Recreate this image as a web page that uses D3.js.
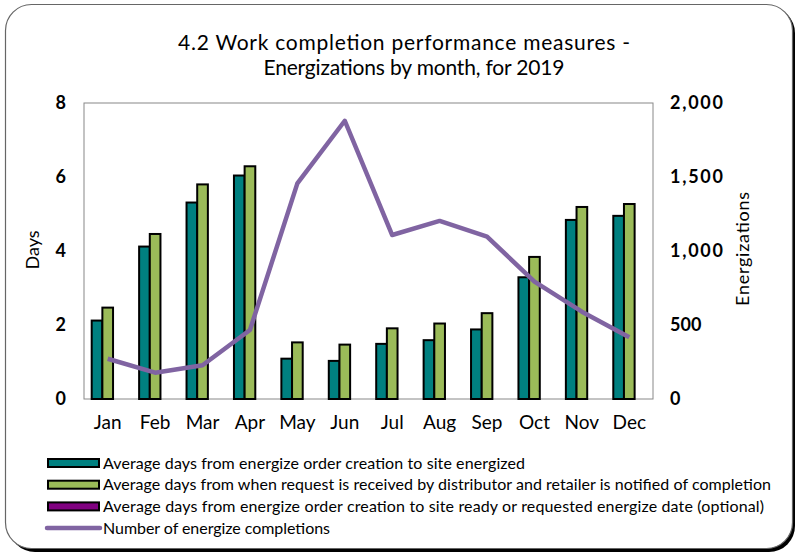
<!DOCTYPE html>
<html>
<head>
<meta charset="utf-8">
<script src="https://cdn.jsdelivr.net/npm/d3@7"></script>
<style>
  body { margin: 0; background: #fff; }
  text { font-family: Lato, "Noto Sans", sans-serif; fill: #000; }
</style>
</head>
<body>
<script>
// chart data
const months = ['Jan', 'Feb', 'Mar', 'Apr', 'May', 'Jun', 'Jul', 'Aug', 'Sep', 'Oct', 'Nov', 'Dec'];
const daysToEnergized = [2.12, 4.12, 5.31, 6.04, 1.09, 1.03, 1.49, 1.59, 1.88, 3.29, 4.84, 4.95];
const daysToNotified = [2.47, 4.46, 5.80, 6.29, 1.53, 1.47, 1.91, 2.04, 2.32, 3.84, 5.19, 5.27];
const daysToReady = [0, 0, 0, 0, 0, 0, 0, 0, 0, 0, 0, 0];
const completions = [272, 178, 228, 466, 1457, 1880, 1108, 1203, 1097, 793, 590, 417];
const leftTicks = [0, 2, 4, 6, 8];
const rightTicks = [0, 500, 1000, 1500, 2000];
const seriesNames = [
  'Average days from energize order creation to site energized',
  'Average days from when request is received by distributor and retailer is notified of completion',
  'Average days from energize order creation to site ready or requested energize date (optional)',
  'Number of energize completions'
];
const colors = ['#008080', '#9bbb59', '#800080', '#8064a2'];

const W = 799, H = 556;
const plot = { left: 84, right: 653, top: 103, bottom: 399 };

let svg = d3.select('body').append('svg')
    .attr('width', W)
    .attr('height', H);

// frame with shadow
svg.append('rect')
    .attr('x', 9).attr('y', 7)
    .attr('width', 786).attr('height', 545)
    .attr('rx', 26)
    .style('fill', '#000');
svg.append('rect')
    .attr('x', 5.5).attr('y', 4.5)
    .attr('width', 787).attr('height', 544)
    .attr('rx', 26)
    .style('fill', '#fff')
    .style('stroke', '#666')
    .style('stroke-width', 1.2);

// title
svg.append('text')
    .attr('x', 404).attr('y', 50)
    .attr('text-anchor', 'middle')
    .style('font-size', '21px')
    .attr('textLength', 452)
    .text('4.2 Work completion performance measures -');
svg.append('text')
    .attr('x', 414).attr('y', 75)
    .attr('text-anchor', 'middle')
    .style('font-size', '21px')
    .attr('textLength', 301)
    .text('Energizations by month, for 2019');

let x = d3.scaleBand()
    .domain(months)
    .range([plot.left, plot.right])
    .paddingInner(0.325)
    .paddingOuter(0.1625);

let x1 = d3.scaleBand()
    .domain([0, 1, 2])
    .range([0, x.bandwidth()]);

let y = d3.scaleLinear().domain([0, 8]).range([plot.bottom, plot.top]);
let y2 = d3.scaleLinear().domain([0, 2000]).range([plot.bottom, plot.top]);

// plot area border
svg.append('rect')
    .attr('x', plot.left).attr('y', plot.top)
    .attr('width', plot.right - plot.left)
    .attr('height', plot.bottom - plot.top)
    .style('fill', 'none')
    .style('stroke', '#888')
    .style('stroke-width', 1);

// bars
let barSeries = [daysToEnergized, daysToNotified, daysToReady];
barSeries.forEach((vals, s) => {
    svg.append('g').selectAll('rect')
        .data(vals.filter(v => v > 0).length ? vals : [])
        .enter()
        .append('rect')
        .attr('x', (d, i) => x(months[i]) + x1(s))
        .attr('y', d => y(d))
        .attr('width', x1.bandwidth())
        .attr('height', d => y(0) - y(d))
        .style('fill', colors[s])
        .style('stroke', '#000')
        .style('stroke-width', 2);
});

// line
let line = d3.line()
    .x((d, i) => x(months[i]) + x.bandwidth() / 2)
    .y(d => y2(d));
svg.append('path')
    .datum(completions)
    .attr('d', line)
    .style('fill', 'none')
    .style('stroke', colors[3])
    .style('stroke-width', 4.5)
    .style('stroke-linejoin', 'round');

// axes
let leftAxis = d3.axisLeft(y).tickValues(leftTicks).tickSize(0).tickPadding(18);
let gl = svg.append('g').attr('transform', `translate(${plot.left},0)`).call(leftAxis);
gl.select('.domain').remove();
gl.selectAll('text').style('font-size', '18px').style('font-weight', 'bold').style('font-family', 'Lato, sans-serif');

let rightAxis = d3.axisRight(y2).tickValues(rightTicks).tickSize(0).tickPadding(17)
    .tickFormat(d3.format(','));
let gr = svg.append('g').attr('transform', `translate(${plot.right},0)`).call(rightAxis);
gr.select('.domain').remove();
gr.selectAll('text').style('font-size', '18px').style('font-weight', 'bold').style('font-family', 'Lato, sans-serif')
    .attr('textLength', d => d >= 1000 ? 53 : null);

let bottomAxis = d3.axisBottom(x).tickSize(0).tickPadding(17);
let gb = svg.append('g').attr('transform', `translate(0,${plot.bottom})`).call(bottomAxis);
gb.select('.domain').remove();
gb.selectAll('text').style('font-size', '19px').style('font-family', 'Lato, sans-serif');

// axis titles
svg.append('text')
    .attr('transform', 'translate(39,250) rotate(-90)')
    .attr('text-anchor', 'middle')
    .style('font-size', '18px')
    .text('Days');
svg.append('text')
    .attr('transform', 'translate(749,249) rotate(-90)')
    .attr('text-anchor', 'middle')
    .style('font-size', '18px')
    .attr('textLength', 114)
    .text('Energizations');

// legend
const legendWidths = [422, 668, 661, 227];
let legend = svg.append('g');
seriesNames.forEach((name, i) => {
    let ly = 463 + i * 21.7;
    if (i < 3) {
        legend.append('rect')
            .attr('x', 48).attr('y', ly - 4)
            .attr('width', 51).attr('height', 8)
            .style('fill', colors[i])
            .style('stroke', '#000')
            .style('stroke-width', 2);
    } else {
        legend.append('line')
            .attr('x1', 47).attr('x2', 100)
            .attr('y1', ly).attr('y2', ly)
            .style('stroke', colors[i])
            .style('stroke-width', 4.5)
            .style('stroke-linecap', 'round');
    }
    legend.append('text')
        .attr('x', 103).attr('y', ly + 5.5)
        .style('font-size', '16px')
        .attr('textLength', legendWidths[i])
        .text(name);
});
</script>
</body>
</html>
